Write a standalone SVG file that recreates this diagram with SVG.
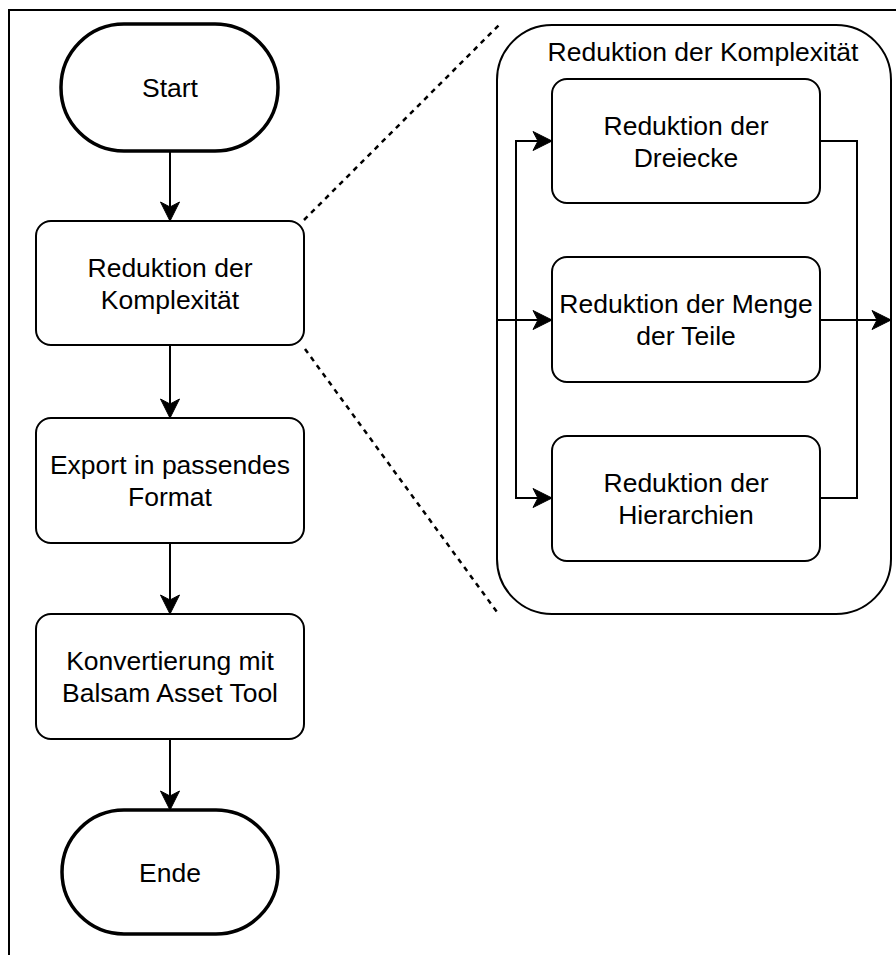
<svg xmlns="http://www.w3.org/2000/svg" width="896" height="955" viewBox="0 0 896 955">
  <defs>
    <marker id="arrow" markerUnits="userSpaceOnUse" viewBox="-20 -11 22 22" refX="0" refY="0" markerWidth="22" markerHeight="22" orient="auto">
      <path d="M0,0 L-19,-9.5 L-14,0 L-19,9.5 Z" fill="#000" stroke="#000" stroke-width="1" stroke-linejoin="miter"/>
    </marker>
    <style>
      .box { fill: #fff; stroke: #000; stroke-width: 2; }
      .term { fill: #fff; stroke: #000; stroke-width: 3.5; }
      .edge { fill: none; stroke: #000; stroke-width: 2; }
      .dash { fill: none; stroke: #000; stroke-width: 2.5; stroke-dasharray: 5 5; }
      text { font-family: "Liberation Sans", Arial, sans-serif; font-size: 26.5px; fill: #000; text-anchor: middle; }
    </style>
  </defs>
  <rect width="896" height="955" fill="#fff"/>

  <!-- frame -->
  <path class="edge" d="M9,955 V10 H896"/>

  <!-- zoom guide lines -->
  <g id="guides">
    <line class="dash" x1="304" y1="220" x2="499" y2="25"/>
    <line class="dash" x1="305" y1="349" x2="497" y2="612"/>
  </g>

  <!-- detail container -->
  <g id="detail">
    <rect class="box" x="497" y="25" width="394" height="589" rx="55"/>
    <text x="703" y="61">Reduktion der Komplexität</text>
  </g>

  <!-- main flow nodes -->
  <g id="start">
    <rect class="term" x="61" y="24" width="217" height="127" rx="63"/>
    <text x="170" y="97">Start</text>
  </g>
  <g id="reduktion">
    <rect class="box" x="36" y="221" width="268" height="124" rx="15"/>
    <text x="170" y="276.5">Reduktion der</text>
    <text x="170" y="308.5">Komplexität</text>
  </g>
  <g id="export">
    <rect class="box" x="36" y="418" width="268" height="125" rx="15"/>
    <text x="170" y="474">Export in passendes</text>
    <text x="170" y="506">Format</text>
  </g>
  <g id="konvertierung">
    <rect class="box" x="36" y="614" width="268" height="125" rx="15"/>
    <text x="170" y="670">Konvertierung mit</text>
    <text x="170" y="702">Balsam Asset Tool</text>
  </g>
  <g id="ende">
    <rect class="term" x="62" y="810" width="216" height="124" rx="62"/>
    <text x="170" y="881.5">Ende</text>
  </g>

  <!-- detail nodes -->
  <g id="dreiecke">
    <rect class="box" x="552" y="79" width="268" height="124" rx="15"/>
    <text x="686" y="134.5">Reduktion der</text>
    <text x="686" y="166.5">Dreiecke</text>
  </g>
  <g id="menge">
    <rect class="box" x="552" y="257" width="268" height="125" rx="15"/>
    <text x="686" y="313">Reduktion der Menge</text>
    <text x="686" y="345">der Teile</text>
  </g>
  <g id="hierarchien">
    <rect class="box" x="552" y="436" width="268" height="125" rx="15"/>
    <text x="686" y="491.5">Reduktion der</text>
    <text x="686" y="523.5">Hierarchien</text>
  </g>

  <!-- connectors -->
  <g id="connectors">
    <line class="edge" x1="170" y1="151" x2="170" y2="221" marker-end="url(#arrow)"/>
    <line class="edge" x1="170" y1="345" x2="170" y2="418" marker-end="url(#arrow)"/>
    <line class="edge" x1="170" y1="543" x2="170" y2="614" marker-end="url(#arrow)"/>
    <line class="edge" x1="170" y1="739" x2="170" y2="810" marker-end="url(#arrow)"/>

    <path class="edge" d="M497,320 H552" marker-end="url(#arrow)"/>
    <path class="edge" d="M516,320 V141 H552" marker-end="url(#arrow)"/>
    <path class="edge" d="M516,320 V498 H552" marker-end="url(#arrow)"/>

    <path class="edge" d="M820,141 H857 V320"/>
    <path class="edge" d="M820,498 H857 V320"/>
    <path class="edge" d="M820,320 H891" marker-end="url(#arrow)"/>
  </g>
</svg>
